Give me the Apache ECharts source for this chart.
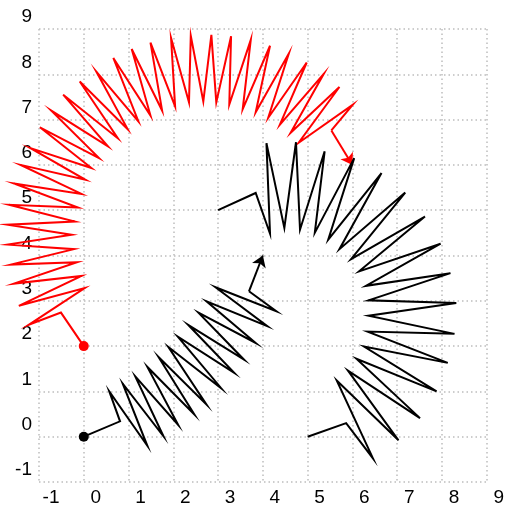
<!DOCTYPE html>
<html>
<head>
<meta charset="utf-8">
<script src="https://cdn.jsdelivr.net/npm/echarts@6/dist/echarts.min.js"></script>
<style>
  html, body { margin: 0; padding: 0; background: #fff; }
  #springs { width: 507px; height: 512px; }
</style>
</head>
<body>
<div id="springs"></div>
<script>
// tick values on both axes
const ticks = [-1, 0, 1, 2, 3, 4, 5, 6, 7, 8, 9]

// black spring from the origin, ends before the arrow
const blackSpring = [
  [0, 0], [0.81, 0.34],
  [0.57, 1.00], [1.42, -0.20], [0.87, 1.17], [1.78, 0.01], [1.15, 1.33], [2.11, 0.26],
  [1.42, 1.54], [2.47, 0.49], [1.67, 1.76], [2.74, 0.71], [1.89, 1.98], [3.07, 1.07],
  [2.10, 2.21], [3.36, 1.41], [2.33, 2.47], [3.58, 1.70], [2.56, 2.74], [3.84, 2.07],
  [2.74, 2.99], [4.10, 2.44], [2.94, 3.30], [4.30, 2.77],
  [3.69, 3.21]
]
const blackArrow = [[3.69, 3.21], [4, 4]]

// red arc spring from (0, 2)
const redSpring = [
  [0, 2], [-0.51, 2.74],
  [-1.23, 2.47], [0.02, 3.28], [-1.45, 2.89], [-0.05, 3.55], [-1.56, 3.38], [-0.15, 3.85],
  [-1.63, 3.80], [-0.22, 4.14], [-1.70, 4.24], [-0.27, 4.46], [-1.70, 4.68], [-0.20, 4.75],
  [-1.67, 5.12], [-0.13, 5.06], [-1.56, 5.59], [-0.05, 5.36], [-1.41, 6.00], [0.04, 5.67],
  [-1.19, 6.37], [0.17, 5.93], [-0.98, 6.83], [0.34, 6.15], [-0.73, 7.20], [0.54, 6.41],
  [-0.46, 7.55], [0.76, 6.59], [-0.09, 7.84], [0.98, 6.79], [0.28, 8.06], [1.22, 6.96],
  [0.66, 8.36], [1.49, 7.09], [1.07, 8.56], [1.75, 7.20], [1.49, 8.70], [2.04, 7.29],
  [1.95, 8.80], [2.35, 7.38], [2.39, 8.85], [2.67, 7.40], [2.85, 8.87], [2.96, 7.38],
  [3.29, 8.84], [3.25, 7.33], [3.73, 8.76], [3.55, 7.23], [4.16, 8.63], [3.84, 7.16],
  [4.58, 8.46], [4.12, 7.04], [4.98, 8.26], [4.38, 6.89], [5.36, 8.01], [4.62, 6.71],
  [5.71, 7.72], [4.80, 6.49], [6.01, 7.33],
  [5.53, 6.76]
]
const redArrow = [[5.53, 6.76], [6, 6]]

// black arc spring between (3, 5) and (5, 0)
const blackArc = [
  [3, 5], [3.84, 5.38],
  [4.16, 4.48], [4.08, 6.48], [4.48, 4.61], [4.74, 6.50], [4.83, 4.57], [5.38, 6.30],
  [5.16, 4.50], [6.04, 6.15], [5.46, 4.35], [6.65, 5.82], [5.71, 4.14], [7.18, 5.39],
  [5.97, 3.92], [7.62, 4.86], [6.15, 3.65], [7.97, 4.26], [6.30, 3.33], [8.19, 3.61],
  [6.36, 3.01], [8.32, 2.95], [6.36, 2.67], [8.28, 2.27], [6.34, 2.32], [8.13, 1.63],
  [6.26, 1.99], [7.88, 1.00], [6.09, 1.72], [7.51, 0.41], [5.90, 1.46], [7.03, -0.08],
  [5.65, 1.24], [6.46, -0.48],
  [5.86, 0.30], [5, 0]
]

const blackDot = [[0, 0]]
const redDot = [[0, 2]]

const myChart = echarts.init(document.getElementById('springs'))

const axisCommon = {
  type: 'value',
  min: ticks[0],
  max: ticks[ticks.length - 1],
  interval: 1,
  axisLine: { show: false },
  axisTick: { show: false },
  splitLine: {
    show: true,
    lineStyle: { color: '#bdbdbd', width: 1.5, type: [1.5, 3] }
  }
}

// custom series so the red coil can run past the left edge of the grid
function springSeries (points, color) {
  return {
    type: 'custom',
    coordinateSystem: 'cartesian2d',
    clip: false,
    silent: true,
    data: [points[0]],
    renderItem: function (params, api) {
      return {
        type: 'polyline',
        shape: { points: points.map(function (p) { return api.coord(p) }) },
        style: { stroke: color, lineWidth: 2, fill: null, lineJoin: 'miter', miterLimit: 10 }
      }
    }
  }
}

function arrowSeries (data, color) {
  return {
    type: 'lines',
    coordinateSystem: 'cartesian2d',
    symbol: ['none', 'arrow'],
    symbolSize: 11,
    symbolOffset: [0, '50%'],
    silent: true,
    lineStyle: { color: color, width: 2, opacity: 1, curveness: 0 },
    data: [{ coords: data }]
  }
}

function dotSeries (data, color) {
  return {
    type: 'scatter',
    data: data,
    symbolSize: 10,
    silent: true,
    itemStyle: { color: color, opacity: 1 }
  }
}

const option = {
  backgroundColor: '#ffffff',
  animation: false,
  grid: { left: 39, right: 14, top: 29, bottom: 30, containLabel: false },
  xAxis: Object.assign({}, axisCommon, {
    axisLabel: {
      margin: 6,
      color: '#000',
      fontSize: 19,
      fontFamily: 'Liberation Sans',
      padding: [0, 0, 0, 24]
    }
  }),
  yAxis: Object.assign({}, axisCommon, {
    axisLabel: {
      margin: 7,
      color: '#000',
      fontSize: 19,
      fontFamily: 'Liberation Sans',
      verticalAlign: 'bottom',
      lineHeight: 24
    }
  }),
  series: [
    springSeries(blackSpring, '#000000'),
    arrowSeries(blackArrow, '#000000'),
    springSeries(redSpring, '#ff0000'),
    arrowSeries(redArrow, '#ff0000'),
    springSeries(blackArc, '#000000'),
    dotSeries(blackDot, '#000000'),
    dotSeries(redDot, '#ff0000')
  ]
}

myChart.setOption(option)
window.onresize = myChart.resize
</script>
</body>
</html>
